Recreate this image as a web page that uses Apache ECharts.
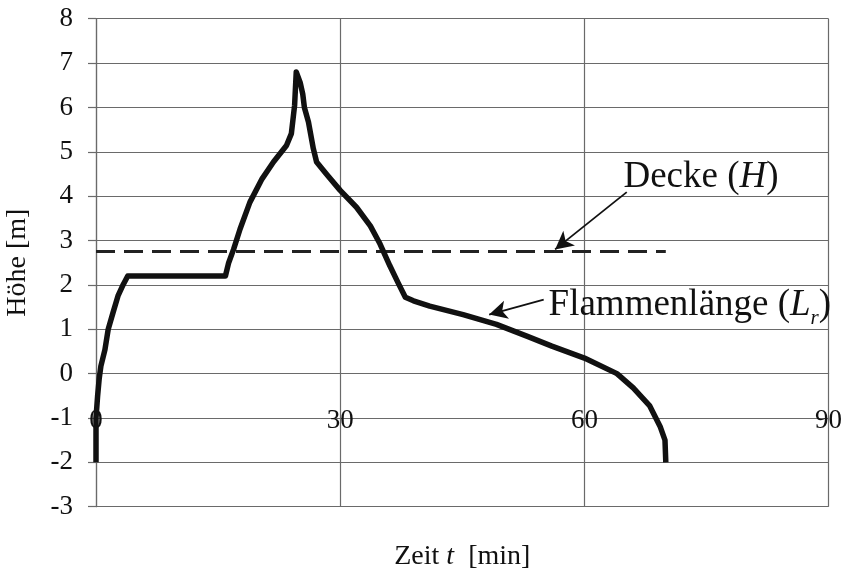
<!DOCTYPE html>
<html><head><meta charset="utf-8">
<script src="https://cdn.jsdelivr.net/npm/echarts@6/dist/echarts.min.js"></script>
<style>html,body{margin:0;padding:0;background:#fff}#c{width:841px;height:575px}</style>
</head><body><div id="c"></div>
<script>
// Flammenlänge (Lr) – time [min] and height [m]
const flameT = [0, 0, 0.2, 0.4, 0.6, 1.1, 1.5, 2.1, 2.7, 3.35, 3.9, 15.9, 16.3, 16.9, 17.7, 18.9, 20.4, 21.8, 23.4, 24.0, 24.4, 24.6, 25.1, 25.4, 25.6, 26.1, 26.7, 27.1, 28.3, 30.0, 32.0, 33.7, 34.9, 36.1, 37.1, 38.0, 39.0, 41.0, 45.1, 49.2, 53.0, 56.0, 60.0, 64.0, 66.0, 68.0, 69.3, 69.9, 70.0];
const flameH = [-2, -1, -0.5, -0.1, 0.17, 0.54, 1.0, 1.38, 1.75, 2.01, 2.2, 2.2, 2.5, 2.8, 3.26, 3.86, 4.39, 4.77, 5.14, 5.41, 6.05, 6.8, 6.55, 6.3, 6.0, 5.67, 5.07, 4.77, 4.5, 4.13, 3.75, 3.33, 2.92, 2.43, 2.05, 1.72, 1.64, 1.52, 1.33, 1.11, 0.84, 0.62, 0.35, 0.0, -0.32, -0.72, -1.19, -1.5, -2];
// Decke (H)
const ceilingT = [0, 70];
const ceilingH = [2.75, 2.75];
// axis ticks
const xTicks = [0, 30, 60, 90];
const yTicks = [-3, -2, -1, 0, 1, 2, 3, 4, 5, 6, 7, 8];
// annotation anchors (data coordinates)
const deckeArrow = [[65.2, 4.09], [56.4, 2.8]];
const flammeArrow = [[55.0, 1.67], [48.3, 1.33]];
const deckeLabelPos = [64.8, 3.88];
const flammeLabelPos = [55.6, 1.0];

const FONT = "'Liberation Serif', 'Times New Roman', serif";
const GRIDC = '#6a6a6a';

const chart = echarts.init(document.getElementById('c'), null, {renderer: 'canvas'});
const zip = (a, b) => a.map((v, i) => [v, b[i]]);

chart.setOption({
  animation: false,
  backgroundColor: '#fff',
  grid: {left: 96, right: 12.4, top: 18.7, bottom: 68.3, containLabel: false, outerBoundsMode: 'none'},
  xAxis: {
    type: 'value', min: xTicks[0], max: xTicks[xTicks.length - 1], interval: 30,
    name: 'Zeit {i|t}  [min]', nameLocation: 'middle', nameGap: 36,
    nameTextStyle: {fontFamily: FONT, fontSize: 28, color: '#111',
      rich: {i: {fontFamily: FONT, fontSize: 28, fontStyle: 'italic', color: '#111'}}},
    axisLine: {show: true, lineStyle: {color: GRIDC, width: 1.2}},
    axisTick: {show: false},
    axisLabel: {margin: -86, verticalAlign: 'middle', fontFamily: FONT, fontSize: 27, color: '#111',
      formatter: v => xTicks.includes(v) ? String(v) : ''},
    splitLine: {show: true, lineStyle: {color: GRIDC, width: 1.2}}
  },
  yAxis: {
    type: 'value', min: yTicks[0], max: yTicks[yTicks.length - 1], interval: 1,
    name: 'Höhe [m]', nameLocation: 'middle', nameGap: 64, nameRotate: 90,
    nameTextStyle: {fontFamily: FONT, fontSize: 28, color: '#111'},
    axisLine: {show: true, lineStyle: {color: GRIDC, width: 1.2}},
    axisTick: {show: true, inside: false, length: 8, lineStyle: {color: GRIDC, width: 1.2}},
    axisLabel: {margin: 23, fontFamily: FONT, fontSize: 27, color: '#111',
      formatter: v => yTicks.includes(v) ? String(v) : ''},
    splitLine: {show: true, lineStyle: {color: GRIDC, width: 1.2}}
  },
  series: [
    {
      name: 'Decke (H)', type: 'line', data: zip(ceilingT, ceilingH), symbol: 'none',
      lineStyle: {color: '#222', width: 3, type: [19, 9]}, z: 3
    },
    {
      name: 'Flammenlänge (Lr)', type: 'line', data: zip(flameT, flameH), symbol: 'none',
      lineStyle: {color: '#111', width: 5.5, join: 'round'}, z: 4
    },
    {
      name: 'arrows', type: 'line', data: [], symbol: 'none', z: 5,
      markLine: {
        silent: true, animation: false,
        symbol: ['none', 'arrow'], symbolSize: [14, 18],
        lineStyle: {color: '#111', width: 1.8, type: 'solid'},
        label: {show: false},
        data: [
          [{coord: deckeArrow[0]}, {coord: deckeArrow[1]}],
          [{coord: flammeArrow[0]}, {coord: flammeArrow[1]}]
        ]
      }
    },
    {
      name: 'labels', type: 'scatter', symbolSize: 0, z: 6,
      itemStyle: {opacity: 1},
      data: [
        {value: deckeLabelPos, label: {formatter: '{a|Decke (}{i|H}{a|)}'}},
        {value: flammeLabelPos, label: {formatter: '{a|Flammenlänge (}{i|L}{s|r}{a|)}'}}
      ],
      label: {
        show: true, position: [0, 0], align: 'left', verticalAlign: 'bottom', opacity: 1,
        rich: {
          a: {fontFamily: FONT, fontSize: 37, color: '#111', verticalAlign: 'middle', lineHeight: 48},
          i: {fontFamily: FONT, fontSize: 37, fontStyle: 'italic', color: '#111', verticalAlign: 'middle', lineHeight: 48},
          s: {fontFamily: FONT, fontSize: 21, fontStyle: 'italic', color: '#111', verticalAlign: 'bottom', lineHeight: 48}
        }
      }
    }
  ]
});
</script></body></html>
